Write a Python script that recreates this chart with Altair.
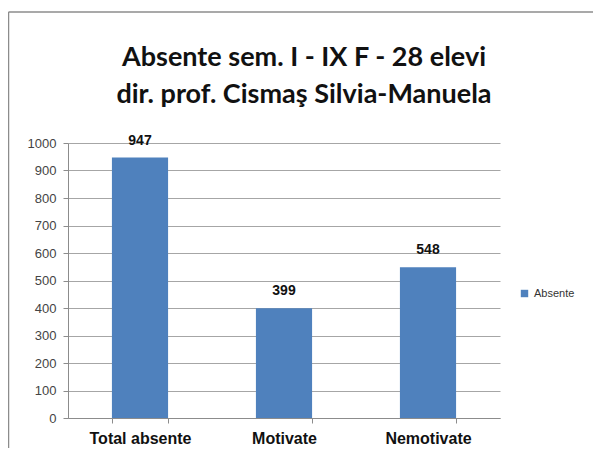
import altair as alt
import pandas as pd

categories = ["Total absente", "Motivate", "Nemotivate"]
values = [947, 399, 548]
series = ["Absente", "Absente", "Absente"]
title_lines = ["Absente sem. I - IX F - 28 elevi", "dir. prof. Cismaş Silvia-Manuela"]
y_ticks = [0, 100, 200, 300, 400, 500, 600, 700, 800, 900, 1000]

df = pd.DataFrame({"cat": categories, "val": values, "series": series})

W, H = 432, 275
BLUE = "#4F81BD"
FRAME = "#8c8c8c"

x_enc = alt.X("cat:N", sort=categories, title=None,
              scale=alt.Scale(paddingInner=0.61, paddingOuter=0.305),
              axis=alt.Axis(labelAngle=0, labelFont="Liberation Sans", labelFontSize=16,
                            labelFontWeight="bold", labelColor="#111", labelPadding=7,
                            tickBand="extent", ticks=True, tickSize=5, tickColor="#8c8c8c",
                            domainColor="#8c8c8c", grid=False))
y_enc = alt.Y("val:Q", title=None,
              scale=alt.Scale(domain=[0, 1000], nice=False),
              axis=alt.Axis(values=y_ticks, format="d", labelOverlap=False,
                            labelFont="Liberation Sans", labelFontSize=13,
                            labelColor="#444", labelPadding=7, tickSize=5, tickColor="#8c8c8c",
                            domainColor="#8c8c8c", gridColor="#a6a6a6", gridWidth=1))

base = alt.Chart(df)

bars = base.mark_bar(color=BLUE).encode(
    x=x_enc,
    y=y_enc,
    fill=alt.Fill("series:N", title=None,
                  scale=alt.Scale(range=[BLUE]),
                  legend=alt.Legend(orient="none", legendX=451, legendY=145,
                                    symbolType="square", symbolSize=55,
                                    labelFont="Liberation Sans", labelFontSize=11,
                                    labelColor="#333")),
)

labels = base.mark_text(dy=-10, font="Liberation Sans", fontSize=14, fontWeight="bold",
                        color="#111", baseline="bottom").encode(
    x=x_enc,
    y=y_enc,
    text=alt.Text("val:Q"),
)

one = alt.Data(values=[{}])
top_line = alt.Chart(one).mark_rule(color=FRAME, strokeWidth=1.5, clip=False).encode(
    x=alt.value(-59.5), x2=alt.value(W + 300), y=alt.value(-131))
left_line = alt.Chart(one).mark_rule(color=FRAME, strokeWidth=1.5, clip=False).encode(
    x=alt.value(-59.5), y=alt.value(-131), y2=alt.value(H + 300))

title1 = alt.Chart(one).mark_text(text=title_lines[0], font="Lato", fontSize=27,
                                  fontWeight="bold", color="#111", align="center",
                                  baseline="alphabetic").encode(
    x=alt.value(236), y=alt.value(-77))
title2 = alt.Chart(one).mark_text(text=title_lines[1], font="Lato", fontSize=27,
                                  fontWeight="bold", color="#111", align="center",
                                  baseline="alphabetic").encode(
    x=alt.value(236), y=alt.value(-40))

chart = alt.layer(top_line, left_line, title1, title2, bars, labels).properties(
    width=W, height=H,
    autosize=alt.AutoSizeParams(type="none"),
    padding={"left": 60, "top": 135, "right": 93, "bottom": 30},
).configure_view(stroke=None)

chart.save("out.html", embed_options={"renderer": "svg", "actions": False})
